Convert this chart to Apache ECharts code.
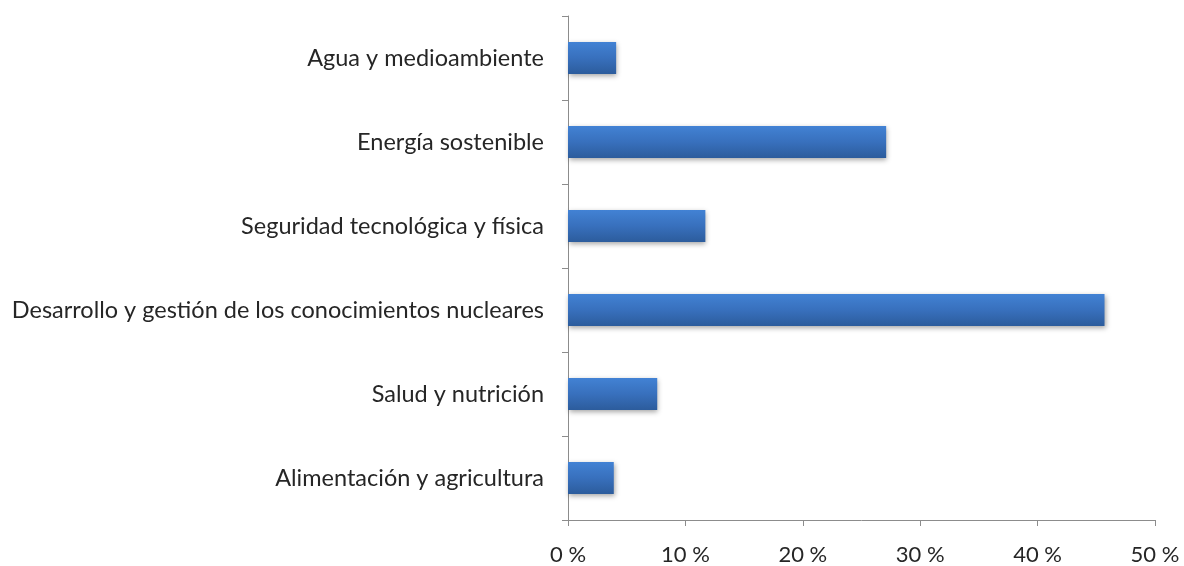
<!DOCTYPE html>
<html>
<head>
<meta charset="utf-8">
<script src="https://cdn.jsdelivr.net/npm/echarts@6/dist/echarts.min.js"></script>
<style>
  html, body { margin: 0; padding: 0; background: #fff; }
  #chart { width: 1184px; height: 566px; }
</style>
</head>
<body>
<div id="chart"></div>
<script>
  // categories listed bottom to top (category axis starts at the bottom)
  const categories = [
    'Alimentación y agricultura',
    'Salud y nutrición',
    'Desarrollo y gestión de los conocimientos nucleares',
    'Seguridad tecnológica y física',
    'Energía sostenible',
    'Agua y medioambiente',
  ];
  const shares = [3.9, 7.6, 45.7, 11.7, 27.1, 4.1];
  const xTicks = [0, 10, 20, 30, 40, 50];

  const chart = echarts.init(document.getElementById('chart'));
  const axisColor = '#8c8c8c';

  chart.setOption({
    animation: false,
    grid: { left: 568, right: 29, top: 16, bottom: 46 },
    xAxis: {
      type: 'value',
      min: xTicks[0],
      max: xTicks[xTicks.length - 1],
      interval: 10,
      axisLine: { show: true, lineStyle: { color: axisColor, width: 1 } },
      axisTick: { show: true, length: 6, lineStyle: { color: axisColor } },
      splitLine: { show: false },
      axisLabel: {
        color: '#262626',
        fontFamily: 'Lato',
        fontSize: 22,
        margin: 24,
        formatter: (v) => v + ' %',
      },
    },
    yAxis: {
      type: 'category',
      data: categories,
      axisLine: { show: true, lineStyle: { color: axisColor, width: 1 } },
      axisTick: { show: true, length: 6, lineStyle: { color: axisColor } },
      axisLabel: {
        color: '#262626',
        fontFamily: 'Lato',
        fontSize: 23.5,
        margin: 24,
      },
    },
    series: [
      {
        type: 'bar',
        data: shares,
        barWidth: 32,
        itemStyle: {
          color: new echarts.graphic.LinearGradient(0, 0, 0, 1, [
            { offset: 0, color: '#4282d4' },
            { offset: 0.5, color: '#3870bd' },
            { offset: 1, color: '#2c5c9c' },
          ]),
          shadowColor: 'rgba(0,0,0,0.35)',
          shadowBlur: 5,
          shadowOffsetX: 1,
          shadowOffsetY: 2,
        },
      },
    ],
  });
</script>
</body>
</html>
